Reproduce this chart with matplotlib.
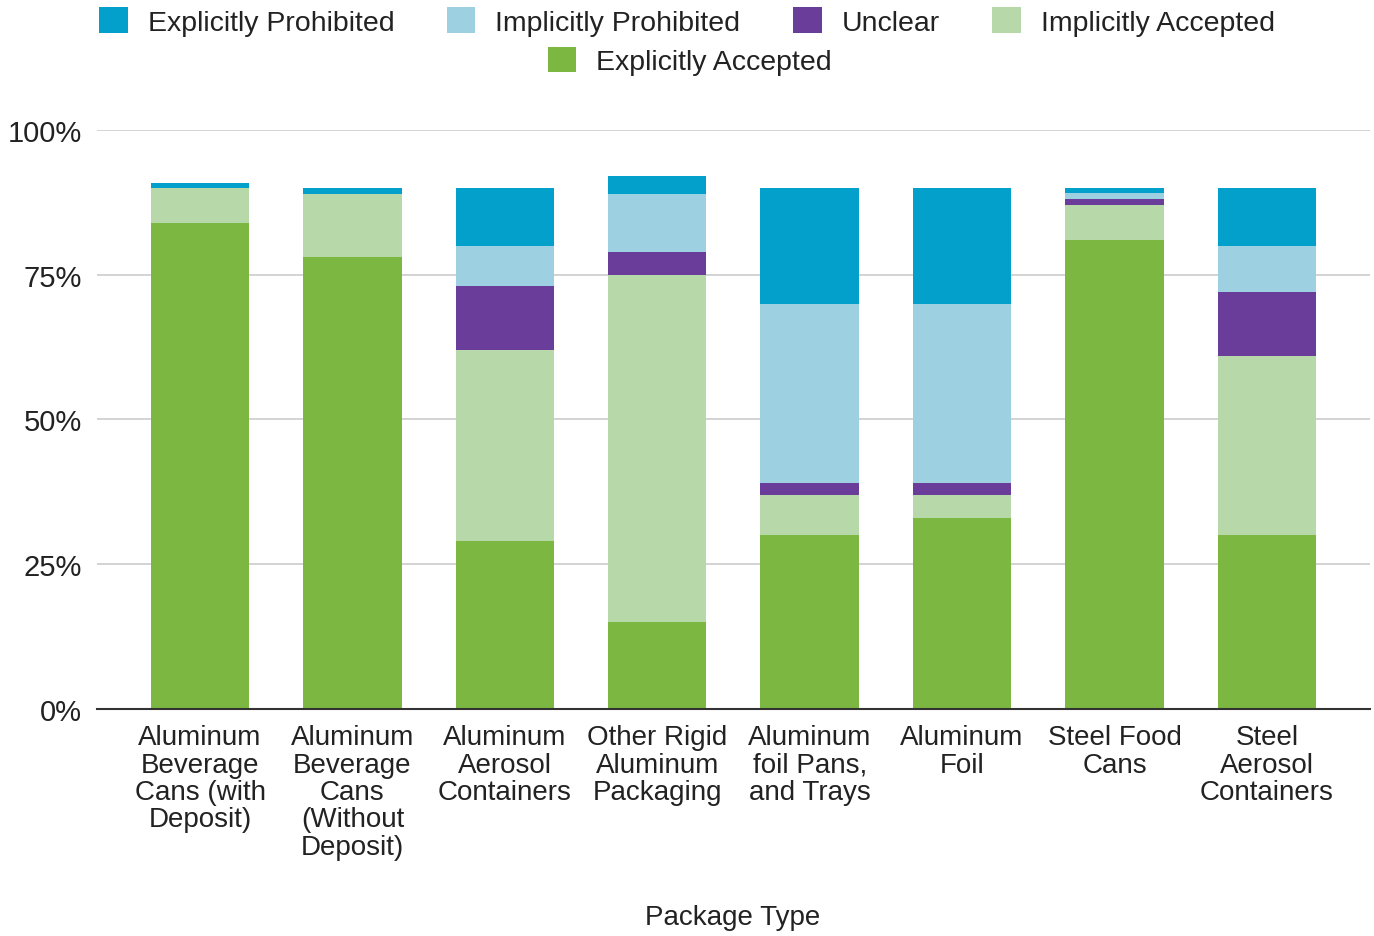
import matplotlib.pyplot as plt
from matplotlib.patches import Patch

plt.rcParams['font.family'] = ['Liberation Sans', 'DejaVu Sans']

categories = [
    'Aluminum\nBeverage\nCans (with\nDeposit)',
    'Aluminum\nBeverage\nCans\n(Without\nDeposit)',
    'Aluminum\nAerosol\nContainers',
    'Other Rigid\nAluminum\nPackaging',
    'Aluminum\nfoil Pans,\nand Trays',
    'Aluminum\nFoil',
    'Steel Food\nCans',
    'Steel\nAerosol\nContainers',
]

# percentages, stacked bottom to top
explicitly_accepted = [84, 78, 29, 15, 30, 33, 81, 30]
implicitly_accepted = [6, 11, 33, 60, 7, 4, 6, 31]
unclear = [0, 0, 11, 4, 2, 2, 1, 11]
implicitly_prohibited = [0, 0, 7, 10, 31, 31, 1.2, 8]
explicitly_prohibited = [0.9, 1, 10, 3, 20, 20, 0.8, 10]

series = [
    ('Explicitly Accepted', explicitly_accepted, '#7cb742'),
    ('Implicitly Accepted', implicitly_accepted, '#b7d8a8'),
    ('Unclear', unclear, '#6a3d9a'),
    ('Implicitly Prohibited', implicitly_prohibited, '#9dd0e0'),
    ('Explicitly Prohibited', explicitly_prohibited, '#02a0ca'),
]

fig = plt.figure(figsize=(13.74, 9.37), dpi=100)
ax = fig.add_axes([0.0706, 0.2423, 0.9264, 0.6179])

x = list(range(len(categories)))
bottom = [0] * len(categories)
for name, vals, color in series:
    ax.bar(x, [v / 100 for v in vals], bottom=[b / 100 for b in bottom],
           width=0.645, color=color, edgecolor='none', zorder=3)
    bottom = [b + v for b, v in zip(bottom, vals)]

ax.set_xlim(-0.676, len(categories) - 1 + 0.676)
ax.set_ylim(0, 1)
ax.set_yticks([0, 0.25, 0.5, 0.75, 1.0])
ax.set_yticklabels(['0%', '25%', '50%', '75%', '100%'], fontsize=21, color='#222222')
ax.set_xticks(x)
ax.set_xticklabels(categories, fontsize=20, linespacing=1.07, color='#222222', va='top')
ax.tick_params(axis='both', length=0)
ax.tick_params(axis='x', pad=11)
ax.tick_params(axis='y', pad=11)

ax.grid(axis='y', color='#cccccc', linewidth=1.2, zorder=0)
for s in ['top', 'right', 'left']:
    ax.spines[s].set_visible(False)
ax.spines['bottom'].set_color('#333333')
ax.spines['bottom'].set_linewidth(1.5)
ax.spines['bottom'].set_zorder(4)

fig.text(0.5335, 1 - 918 / 937, 'Package Type', fontsize=20, color='#222222',
         ha='center', va='center')

colors = {name: color for name, _, color in series}
row1 = ['Explicitly Prohibited', 'Implicitly Prohibited', 'Unclear', 'Implicitly Accepted']
h1 = [Patch(facecolor=colors[n], edgecolor='none') for n in row1]
fig.legend(h1, row1, loc='center', bbox_to_anchor=(0.5, 0.976), ncol=4,
           frameon=False, fontsize=20.5, handlelength=1.0, handleheight=1.0,
           columnspacing=1.85, handletextpad=0.7, labelcolor='#222222')
h2 = [Patch(facecolor=colors['Explicitly Accepted'], edgecolor='none')]
fig.legend(h2, ['Explicitly Accepted'], loc='center', bbox_to_anchor=(0.502, 0.934),
           frameon=False, fontsize=20.5, handlelength=1.0, handleheight=1.0,
           handletextpad=0.7, labelcolor='#222222')

fig.savefig('out.png', dpi=100)
